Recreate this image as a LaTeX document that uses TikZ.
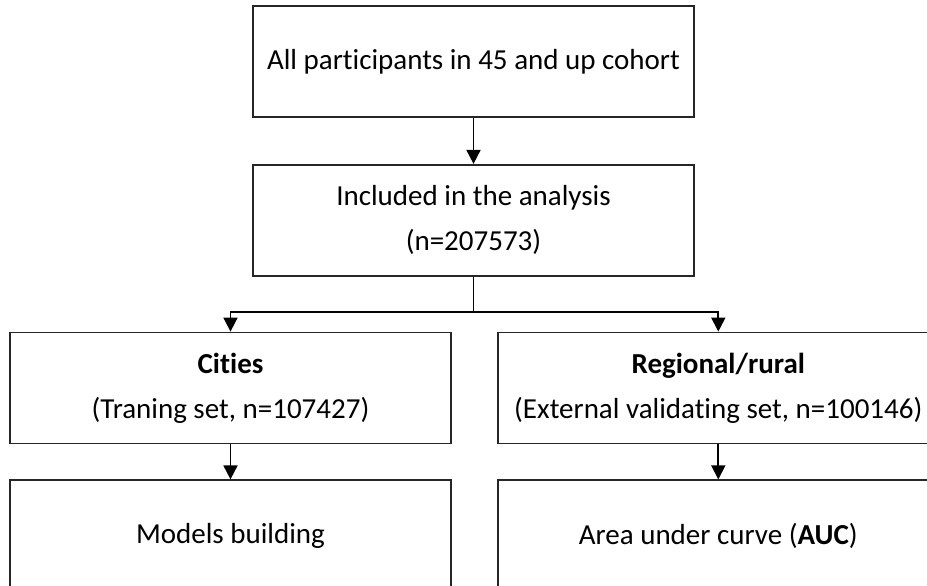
\documentclass[tikz,border=0pt]{standalone}
\usepackage{fontspec}
\setmainfont{Carlito}[Ligatures={NoCommon}]
\usetikzlibrary{arrows.meta,positioning}

\tikzset{
    box/.style={draw=black!85, line width=1.8pt, minimum width=441pt, minimum height=111pt, align=center, font=\fontsize{29}{45}\selectfont, inner sep=0pt},
}

\begin{document}
\begin{tikzpicture}[x=1pt, y=-1pt, >={Triangle[length=14pt,width=14pt]}, node distance=46pt, line width=1.8pt]
        \useasboundingbox (0,0) rectangle (927,586);
        \clip (0,0) rectangle (927,586);

        % Nodes
        \node[box] (cohort) at (473.5,61.5) {All participants in 45 and up cohort};
        \node[box, below=of cohort] (incl) {Included in the analysis\\(n=207573)};
        \coordinate[below=35pt of incl] (split);

        \node[box] (cities) at (230.5,388) {\textbf{Cities}\\(Traning set, n=107427)};
        \node[box, right=45pt of cities] (rural) {\textbf{Regional/rural}\\(External validating set, n=100146)};

        \node[box, below=35pt of cities] (models) {Models building};
        \node[box, below=35pt of rural] (auc) {Area under curve (\textbf{AUC})};

        % Edges
        \draw[->] (cohort) -- (incl);
        \draw[->] (incl) -- (split) -| (cities);
        \draw[->] (split) -| (rural);
        \draw[->] (cities) -- (models);
        \draw[->] (rural) -- (auc);
    \end{tikzpicture}
\end{document}
